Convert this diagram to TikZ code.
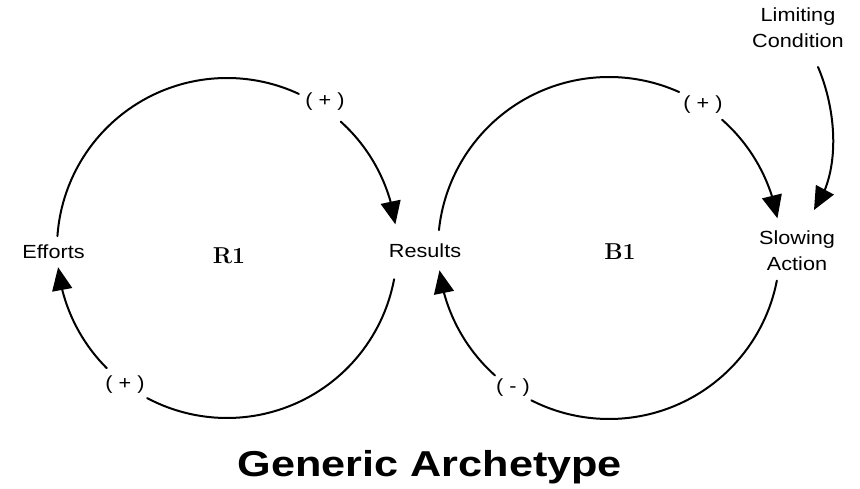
\documentclass[tikz,border=0pt]{standalone}
\usepackage{graphicx}
\usepackage{fontspec}
\newfontfamily\arialf{Liberation Sans}
\usetikzlibrary{arrows.meta,bending}
\newcommand{\sx}[1]{\scalebox{1.14}[1]{#1}}
\begin{document}
\begin{tikzpicture}[x=1pt,y=1pt,
  lbl/.style={inner sep=0pt, align=center, font=\arialf\fontsize{19}{26}\selectfont},
  loopname/.style={inner sep=0pt, font=\fontsize{23}{26}\selectfont\bfseries},
  link/.style={line width=2pt, line cap=round},
  arr/.style={link, -{Triangle[length=23pt,width=20pt]}}]
\useasboundingbox (0,0) rectangle (860,489);
% circle centres
\coordinate (Lc) at (227,241);
\coordinate (Rc) at (609,241);
% nodes
\node[lbl] (efforts) at (53.5,237) {\sx{Efforts}};
\node[loopname] (r1) at (229,233) {R1};
\node[lbl] (results) at (425,238) {\sx{Results}};
\node[loopname] (b1) at (620,237) {B1};
\node[lbl] (slowing) at (797,238) {\sx{Slowing}\\\sx{Action}};
\node[lbl] (limiting) at (798,461) {\sx{Limiting}\\\sx{Condition}};
\node[lbl] (p1) at (325,387) {\sx{( + )}};
\node[lbl] (p2) at (125,104) {\sx{( + )}};
\node[lbl] (p3) at (703,384) {\sx{( + )}};
\node[lbl] (m1) at (513,101) {\sx{( - )}};
\node[inner sep=0pt, anchor=base] (title) at (430,12)
  {\scalebox{1.2}[1]{\arialf\bfseries\fontsize{36}{40}\selectfont Generic Archetype}};
% R1 loop
\draw[link] ([shift={(176:170)}]Lc) arc[start angle=176, end angle=65, radius=170];
\draw[arr] ([shift={(48:170)}]Lc) arc[start angle=48, end angle=8, radius=170];
\draw[link] ([shift={(-10.6:170)}]Lc) arc[start angle=-10.6, end angle=-118, radius=170];
\draw[arr] ([shift={(-135:170)}]Lc) arc[start angle=-135, end angle=-173.5, radius=170];
% B1 loop
\draw[link] ([shift={(174:171)}]Rc) arc[start angle=174, end angle=65.8, radius=171];
\draw[arr] ([shift={(48.6:171)}]Rc) arc[start angle=48.6, end angle=10, radius=171];
\draw[link] ([shift={(-11:171)}]Rc) arc[start angle=-11, end angle=-117, radius=171];
\draw[arr] ([shift={(-131.8:171)}]Rc) arc[start angle=-131.8, end angle=-172.5, radius=171];
% limiting condition link
\coordinate (lcs) at (818,422);
\coordinate (lce) at (814,279);
\draw[arr] (lcs) .. controls (836,380) and (842,318) .. (lce);
\end{tikzpicture}
\end{document}
